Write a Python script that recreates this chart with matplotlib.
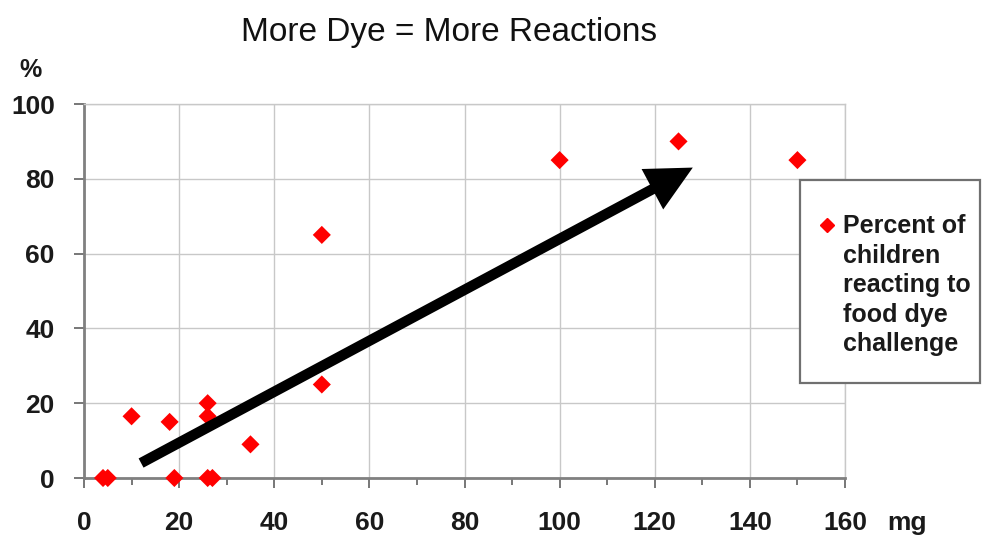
import matplotlib
matplotlib.use("Agg")
import matplotlib.pyplot as plt
from matplotlib.patches import Rectangle, FancyArrowPatch
from matplotlib.ticker import MultipleLocator

# data
dose_mg = [4, 5, 10, 18, 19, 26, 26, 26, 27, 35, 50, 50, 100, 125, 150]
pct_react = [0, 0, 16.5, 15, 0, 20, 16.5, 0, 0, 9, 65, 25, 85, 90, 85]
x_ticks = [0, 20, 40, 60, 80, 100, 120, 140, 160]
y_ticks = [0, 20, 40, 60, 80, 100]
trend_start = (12, 4)
trend_end = (128, 83)
title = "More Dye = More Reactions"
legend_label = "Percent of\nchildren\nreacting to\nfood dye\nchallenge"

W, H = 982, 538
fig = plt.figure(figsize=(W / 100, H / 100), dpi=100)
ax = fig.add_axes([84 / W, 1 - 478 / H, (845 - 84) / W, (478 - 104) / H])

ax.set_xlim(0, 160)
ax.set_ylim(0, 100)
ax.set_xticks(x_ticks)
ax.set_yticks(y_ticks)
ax.xaxis.set_minor_locator(MultipleLocator(10))
ax.grid(True, which="major", color="#c8c8c8", linewidth=1.0)
ax.set_axisbelow(True)

for s in ["top", "right"]:
    ax.spines[s].set_color("#c8c8c8")
    ax.spines[s].set_linewidth(1.0)
for s in ["left", "bottom"]:
    ax.spines[s].set_color("#808080")
    ax.spines[s].set_linewidth(2.0)

ax.tick_params(axis="both", which="major", direction="out", length=7, width=1.2,
               color="#606060", labelsize=19)
ax.tick_params(axis="x", which="minor", direction="out", length=5, width=1.2, color="#606060")
ax.tick_params(axis="x", which="major", pad=17)
ax.tick_params(axis="y", which="major", pad=14)
for lab in ax.get_xticklabels() + ax.get_yticklabels():
    lab.set_fontweight("bold")
    lab.set_fontfamily(["Liberation Sans", "DejaVu Sans"])
    lab.set_color("#1a1a1a")

ax.scatter(dose_mg, pct_react, marker="D", s=85, color="#ff0000", edgecolors="none",
           zorder=3, clip_on=False)

arrow = FancyArrowPatch(trend_start, trend_end,
                        arrowstyle="simple,head_length=3.3,head_width=3.3,tail_width=0.75",
                        mutation_scale=10, facecolor="black", edgecolor="none", linewidth=0,
                        zorder=4, shrinkA=0, shrinkB=0)
ax.add_patch(arrow)

fig.text(449 / W, 1 - 33 / H, title, ha="center", va="center", fontsize=24,
         family=["Liberation Sans Narrow", "Liberation Sans", "DejaVu Sans"], color="#111111")
fig.text(31 / W, 1 - 70 / H, "%", ha="center", va="center", fontsize=18, fontweight="bold",
         family=["Liberation Sans", "DejaVu Sans"], color="#1a1a1a")
fig.text(907 / W, 1 - 523 / H, "mg", ha="center", va="center", fontsize=19, fontweight="bold",
         family=["Liberation Sans", "DejaVu Sans"], color="#1a1a1a")

# legend box
box = Rectangle((800 / W, 1 - 383 / H), (980 - 800) / W, (383 - 180) / H,
                transform=fig.transFigure, facecolor="white", edgecolor="#707070",
                linewidth=1.6, zorder=5)
fig.patches.append(box)
fig.lines.append(plt.Line2D([827 / W], [1 - 225 / H], marker="D", markersize=7,
                            color="#ff0000", linestyle="none", transform=fig.transFigure,
                            zorder=6))
fig.text(843 / W, 1 - 214 / H, legend_label, ha="left", va="top", fontsize=18,
         fontweight="bold", family=["Liberation Sans", "DejaVu Sans"], color="#1a1a1a",
         linespacing=1.29, zorder=6)

fig.savefig("out.png", dpi=100)
